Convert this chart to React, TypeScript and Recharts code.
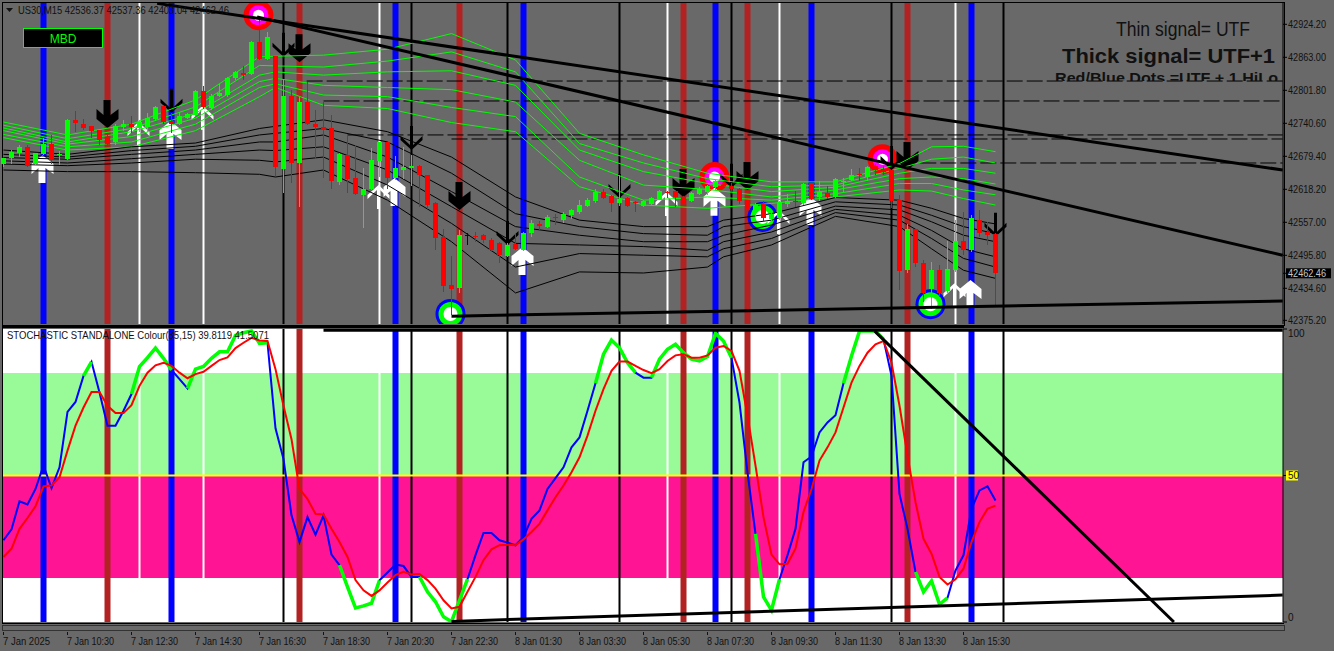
import { Bar, ComposedChart, Line, ReferenceArea, ReferenceLine, Scatter, XAxis, YAxis } from "recharts"

// open, high, low, close per 15 minute bar
const candles = [
  [42666,42677,42660,42677],[42676,42691,42666,42687],[42686,42700,42679,42696],[42697,42700,42660,42662],[42665,42686,42663,42685],
  [42683,42713,42682,42703],[42703,42719,42666,42674],[42682,42690,42663,42683],[42674,42748,42672,42747],[42747,42763,42725,42742],
  [42740,42748,42728,42732],[42735,42735,42714,42727],[42728,42729,42700,42709],[42714,42722,42697,42703],[42706,42739,42700,42735],
  [42733,42747,42727,42740],[42740,42754,42722,42733],[42731,42747,42725,42743],[42733,42759,42725,42751],[42749,42772,42745,42770],
  [42772,42774,42740,42743],[42744,42759,42722,42739],[42740,42762,42737,42754],[42750,42760,42748,42758],[42756,42803,42754,42800],
  [42800,42810,42768,42770],[42769,42795,42766,42792],[42791,42813,42789,42796],[42793,42826,42790,42824],[42824,42837,42821,42836],
  [42834,42847,42821,42831],[42832,42894,42831,42891],[42892,42932,42858,42859],[42859,42910,42858,42900],[42866,42866,42643,42659],
  [42656,42821,42612,42792],[42792,42802,42630,42667],[42667,42789,42586,42781],[42781,42818,42737,42739],[42740,42765,42675,42734],
  [42733,42781,42640,42728],[42732,42756,42619,42633],[42632,42685,42626,42683],[42681,42719,42611,42638],[42639,42700,42608,42609],
  [42608,42657,42546,42618],[42618,42694,42617,42672],[42670,42706,42641,42706],[42706,42706,42618,42639],[42639,42680,42635,42658],
  [42654,42697,42637,42659],[42658,42682,42624,42662],[42661,42663,42586,42645],[42644,42645,42581,42590],[42592,42594,42505,42527],
  [42529,42545,42428,42438],[42440,42494,42385,42434],[42435,42543,42425,42533],[42533,42538,42515,42533],[42531,42539,42521,42530],
  [42533,42536,42519,42524],[42525,42528,42502,42505],[42518,42520,42481,42496],[42494,42518,42493,42515],[42517,42536,42505,42507],
  [42505,42539,42504,42538],[42538,42561,42530,42556],[42554,42560,42543,42550],[42549,42570,42546,42567],[42567,42573,42552,42565],
  [42562,42577,42556,42572],[42570,42581,42564,42580],[42576,42598,42573,42589],[42587,42602,42586,42599],[42596,42618,42593,42613],
  [42614,42619,42601,42602],[42606,42608,42577,42593],[42593,42645,42587,42601],[42602,42604,42585,42588],[42594,42597,42577,42593],
  [42587,42599,42585,42596],[42591,42603,42590,42602],[42599,42617,42598,42615],[42613,42615,42602,42612],[42615,42617,42586,42603],
  [42604,42606,42588,42592],[42597,42613,42594,42611],[42609,42622,42607,42619],[42613,42627,42608,42624],[42623,42635,42617,42633],
  [42626,42629,42622,42624],[42624,42629,42614,42618],[42618,42620,42591,42596],[42598,42599,42573,42580],[42576,42592,42567,42590],
  [42591,42597,42560,42565],[42564,42580,42559,42573],[42565,42596,42561,42594],[42591,42609,42585,42597],[42597,42615,42585,42594],
  [42592,42629,42590,42628],[42629,42630,42598,42601],[42603,42633,42596,42613],[42612,42624,42601,42603],[42603,42640,42602,42637],
  [42632,42639,42614,42634],[42635,42656,42633,42645],[42646,42658,42634,42644],[42641,42661,42633,42659],[42661,42666,42644,42654],
  [42656,42661,42644,42650],[42654,42654,42583,42597],[42598,42607,42431,42467],[42468,42554,42463,42544],[42544,42544,42475,42481],
  [42481,42487,42410,42425],[42434,42484,42397,42468],[42468,42477,42419,42425],[42429,42522,42425,42470],[42468,42561,42465,42522],
  [42522,42577,42497,42505],[42505,42570,42502,42565],[42562,42580,42529,42538],[42539,42557,42515,42533],[42536,42537,42403,42462.46],
]

const greenRibbonBars = [0,8,16,24,32,34,40,48,56,64,72,80,88,96,104,112,116,120,124]
const greenRibbon = [
  [42743,42737,42732,42727,42720,42714],[42719,42712,42706,42702,42697,42691],[42739,42731,42725,42716,42706,42697],
  [42784,42771,42759,42750,42739,42727],[42864,42848,42830,42818,42807,42790],[42865,42847,42836,42824,42814,42807],
  [42867,42845,42830,42811,42793,42774],[42878,42856,42836,42807,42790,42768],[42907,42873,42838,42803,42770,42742],
  [42858,42836,42811,42780,42753,42725],[42722,42703,42691,42672,42641,42623],[42682,42667,42651,42626,42598,42589],
  [42648,42638,42629,42618,42604,42583],[42632,42623,42614,42604,42598,42592],[42632,42626,42622,42617,42610,42604],
  [42666,42657,42648,42638,42629,42617],[42697,42674,42657,42641,42629,42615],[42698,42678,42657,42638,42617,42601],
  [42688,42667,42648,42628,42608,42589],
]

const blackRibbonBars = [0,8,16,24,32,34,40,48,56,64,72,80,88,90,96,104,112,116,120,124]
const blackRibbon = [
  [42691,42683,42677,42671,42665,42654],[42683,42678,42674,42667,42662,42651],[42697,42690,42683,42675,42667,42651],
  [42704,42698,42691,42683,42674,42649],[42731,42719,42706,42691,42672,42646],[42735,42722,42706,42690,42669,42641],
  [42747,42731,42719,42697,42678,42654],[42725,42706,42678,42654,42626,42598],[42678,42648,42614,42586,42555,42521],
  [42604,42573,42549,42518,42474,42426],[42561,42549,42533,42515,42499,42465],[42549,42536,42521,42512,42496,42463],
  [42549,42533,42521,42505,42493,42474],[42561,42549,42533,42521,42508,42493],[42573,42561,42552,42539,42527,42515],
  [42603,42595,42587,42581,42575,42568],[42598,42589,42580,42570,42561,42549],[42583,42570,42558,42542,42527,42508],
  [42564,42549,42533,42508,42490,42468],[42554,42536,42521,42493,42474,42453],
]

const stochMain = [
  27.9,31.6,41.2,40.1,45.4,53.4,45.7,52.8,71.7,75.1,84.0,88.8,78.3,67.0,67.0,72.1,77.8,87.2,90.2,93.5,
  90.0,86.0,82.9,79.7,86.3,87.2,90.0,92.2,92.2,97.8,98.7,99.3,95.1,95.3,66.1,55.6,36.4,27.3,35.8,29.8,
  36.4,23.0,19.4,12.0,4.8,5.5,6.4,14.2,16.9,19.6,19.1,15.4,15.4,10.3,6.9,1.8,0.1,7.4,14.6,22.8,
  30.4,30.4,27.9,27.1,26.2,29.0,35.2,38.1,45.4,49.1,52.8,59.6,63.0,72.1,81.5,91.4,96.2,93.6,88.5,85.1,
  83.4,83.4,89.7,93.1,94.8,91.9,89.7,89.1,90.6,98.5,95.9,90.2,74.9,51.1,30.1,8.6,4.0,14.6,22.8,31.8,
  54.5,56.5,64.7,68.1,70.6,81.5,90.8,99.3,99.3,99.3,96.5,84.0,43.7,31.8,17.1,10.3,14.0,6.0,8.2,17.6,
  22.8,38.6,44.9,46.3,41.5,
]
const stochSignal = [
  22.2,25.0,31.8,35.5,39.5,46.3,46.6,49.4,58.5,67.0,73.2,78.5,78.5,73.8,71.3,71.3,74.0,80.6,85.1,87.6,
  88.5,87.4,85.1,83.2,84.6,85.4,87.4,89.4,90.3,93.5,95.3,97.0,96.1,95.9,86.3,73.8,62.4,45.4,42.0,36.9,
  36.7,31.8,27.3,22.2,14.3,10.8,8.9,10.8,13.5,16.0,17.1,16.2,16.4,14.3,11.4,7.4,4.6,5.2,10.3,15.4,
  21.1,24.8,26.2,26.4,26.2,28.2,30.7,33.5,38.1,42.6,46.6,51.1,56.2,63.6,72.1,79.5,85.7,88.9,88.9,87.4,
  86.0,84.9,86.3,89.1,91.0,91.4,90.2,90.2,91.0,93.6,94.2,92.5,85.7,70.4,53.4,35.8,23.0,19.7,19.9,25.0,
  37.5,45.4,55.1,59.6,64.7,73.2,81.7,87.4,91.9,94.8,95.9,88.5,73.8,56.8,40.9,28.4,23.3,15.4,12.8,14.6,
  18.2,27.3,34.1,38.6,39.7,
]
// stretches of the main line painted green
const stochGreenSpans = [[10,11],[16,21],[23,33],[42,47],[52,58],[74,79],[81,91],[94,97],[105,110],[114,118]]

const blueBars = [5,21,49,65,89,101,121]
const brownBars = [13,37,57,85,93,113]
const whiteBars = [17,25,47,83,97,119]
const blackBars = [35,51,63,77,91,111,125]

const thickDownArrows = [[13,42732],[37,42854],[57,42580],[85,42604],[93,42617],[113,42654]]
const thinDownArrows = [[21,42760],[35,42864],[51,42691],[63,42515],[77,42602],[91,42621],[111,42654],[124,42530]]
const thickUpArrows = [[5,42682],[21,42745],[49,42639],[65,42511],[89,42621],[101,42604],[121,42450]]
const thinUpArrows = [[17,42743],[25,42773],[47,42626],[83,42613],[97,42580],[119,42444]]
const redDots = [[32,42941],[89,42641],[110,42674]]
const blueDots = [[56,42387],[95,42567],[116,42405]]

// from-bar, from-price, to-bar, to-price
const priceTrends = [[19.2,42963,159.9,42654],[31.7,42938,159.9,42496],[56,42383,159.9,42411]]
const stochTrends = [[56,0.2,159.9,9.2],[108.9,99.3,146.3,0],[40,99.6,159.9,99.6]]
// price, from-bar
const dashedLevels = [[42819,37.9],[42782,40],[42719,43],[42711.5,56],[42667,109.6]]

const priceTicks = [42924.2,42863,42801.8,42740.6,42679.4,42618.2,42557,42495.8,42434.6,42375.2]
const lastClose = 42462.46
const stochTicks = [0,50,100]
const timeTicks = [0,8,16,24,32,40,48,56,64,72,80,88,96,104,112,120]
const timeLabels = [
  "7 Jan 2025","7 Jan 10:30","7 Jan 12:30","7 Jan 14:30","7 Jan 16:30","7 Jan 18:30","7 Jan 20:30","7 Jan 22:30",
  "8 Jan 01:30","8 Jan 03:30","8 Jan 05:30","8 Jan 07:30","8 Jan 09:30","8 Jan 11:30","8 Jan 13:30","8 Jan 15:30",
]

const BG = "#696969"
const FONT = "'Liberation Sans', Arial, sans-serif"
const BAR_DOMAIN = [-0.0625, 159.9375]
const PRICE_DOMAIN = [42368.4, 42963.7]
const RIBBON_KEYS = [0, 1, 2, 3, 4, 5]

const priceRows = candles.map(([open, high, low, close], bar) => {
  const row: any = { bar, open, high, low, close, range: [low, high] }
  const g = greenRibbonBars.indexOf(bar)
  const b = blackRibbonBars.indexOf(bar)
  RIBBON_KEYS.forEach((k) => {
    if (g >= 0) row[`g${k}`] = greenRibbon[g][k]
    if (b >= 0) row[`b${k}`] = blackRibbon[b][k]
  })
  return row
})

const stochRows = stochMain.map((main, bar) => ({
  bar,
  main,
  signal: stochSignal[bar],
  green: stochGreenSpans.some(([a, z]) => bar >= a && bar <= z) ? main : null,
}))

const toMarkers = (list: number[][]) => list.map(([bar, price]) => ({ bar, price }))

function Candle(props: any) {
  const { x, y, width, height, payload } = props
  const { open, close, high, low } = payload
  const perPrice = height / (high - low || 1)
  const cx = Math.floor(x + width / 2)
  const top = y + (high - Math.max(open, close)) * perPrice
  const bodyH = Math.max(Math.abs(open - close) * perPrice, 1)
  const color = close > open ? "#00ff00" : close < open ? "#ff0000" : "#000080"
  return (
    <g shapeRendering="crispEdges">
      <rect x={cx} y={y} width={1} height={Math.max(height, 1)} fill={color} />
      <rect x={cx - 2} y={top} width={5} height={bodyH} fill={color} />
    </g>
  )
}

const THICK = "0,0 -11,-9 -11,-19 -4,-13 -4,-28 3,-28 3,-13 11,-19 11,-9"
const THIN = "0,0 -11,-10 -11,-14 -1.5,-5 -1.5,-24 1.5,-24 1.5,-5 11,-14 11,-10"

const arrowShape = (points: string, fill: string, flip: boolean) => (props: any) => (
  <polygon
    points={points}
    fill={fill}
    transform={`translate(${flip ? props.cx - 1 : props.cx},${props.cy}) scale(1,${flip ? -1 : 1})`}
  />
)

const dotShape = (outer: string, middle: string, r: number, inner: number) => (props: any) => (
  <g>
    <circle cx={props.cx - 1} cy={props.cy} r={15} fill={outer} />
    <circle cx={props.cx - 1} cy={props.cy} r={r} fill={middle} />
    <circle cx={props.cx - 1} cy={props.cy} r={inner} fill="#ffffff" />
  </g>
)

function PriceTick(props: any) {
  const { x, y, payload } = props
  const boxed = payload.value === lastClose
  return (
    <g>
      {boxed && <rect x={x - 2} y={y - 5} width={45} height={10} fill="#000" />}
      <text x={x} y={y + 3.5} fontFamily={FONT} fontSize={10} textLength={38} lengthAdjust="spacingAndGlyphs" fill={boxed ? "#c8c8c8" : "#111"}>
        {payload.value.toFixed(2)}
      </text>
    </g>
  )
}

function StochTick(props: any) {
  const { x, y, payload } = props
  const shift = payload.value === 100 ? 4 : payload.value === 0 ? -5 : 0
  return (
    <g>
      {payload.value === 50 && <rect x={x - 2} y={y - 5} width={12} height={10} fill="#ffff00" />}
      <text x={x} y={y + 3.5 + shift} fontFamily={FONT} fontSize={10} fill="#111">
        {payload.value}
      </text>
    </g>
  )
}

function TimeTick(props: any) {
  const { x, y, index } = props
  return (
    <g>
      <line x1={x} x2={x} y1={y + 4} y2={y + 7} stroke="#111" />
      <text x={x - 0.5} y={y + 17} fontFamily={FONT} fontSize={10} textLength={47} lengthAdjust="spacingAndGlyphs" fill="#111">
        {timeLabels[index]}
      </text>
    </g>
  )
}

const verticals = () => [
  ...blueBars.map((b) => <ReferenceLine key={`bl${b}`} x={b} stroke="#0000ff" strokeWidth={6} />),
  ...brownBars.map((b) => <ReferenceLine key={`br${b}`} x={b} stroke="#b22222" strokeWidth={6} />),
  ...whiteBars.map((b) => <ReferenceLine key={`wh${b}`} x={b} stroke="#ffffff" strokeWidth={2} />),
  ...blackBars.map((b) => <ReferenceLine key={`bk${b}`} x={b} stroke="#000000" strokeWidth={2} />),
]

const trends = (list: number[][], width: number) =>
  list.map(([x1, y1, x2, y2], i) => (
    <ReferenceLine key={`t${i}`} segment={[{ x: x1, y: y1 }, { x: x2, y: y2 }]} stroke="#000" strokeWidth={width} ifOverflow="visible" />
  ))

// the library paints reference lines over bars, so each depth gets its own transparent chart
function PriceLayer({ children }: any) {
  return (
    <div style={{ position: "absolute", left: 0, top: 0 }}>
      <ComposedChart width={1334} height={330} data={priceRows} margin={{ top: 3, right: 51, bottom: 6, left: 3 }}>
        <XAxis dataKey="bar" type="number" domain={BAR_DOMAIN} hide />
        <YAxis type="number" domain={PRICE_DOMAIN} hide allowDataOverflow />
        {children}
      </ComposedChart>
    </div>
  )
}

function PriceBase() {
  return (
    <div style={{ position: "absolute", left: 0, top: 0 }}>
      <ComposedChart width={1334} height={330} data={priceRows} margin={{ top: 3, right: 0, bottom: 6, left: 3 }}>
        <XAxis dataKey="bar" type="number" domain={BAR_DOMAIN} hide />
        <YAxis
          orientation="right"
          width={51}
          type="number"
          domain={PRICE_DOMAIN}
          ticks={[...priceTicks, lastClose]}
          interval={0}
          tick={<PriceTick />}
          tickSize={4}
          tickMargin={1}
          stroke="#000"
          allowDataOverflow
        />
        {verticals()}
        {dashedLevels.map(([price, from]) => (
          <ReferenceLine key={price} segment={[{ x: from, y: price }, { x: 159.9, y: price }]} stroke="#000" strokeWidth={1} strokeDasharray="16 4" />
        ))}
      </ComposedChart>
    </div>
  )
}

function PricePanel() {
  return (
    <>
      <PriceBase />
      <PriceLayer>
        <Scatter data={toMarkers(redDots)} dataKey="price" shape={dotShape("#ff0000", "#ff00ff", 10, 5.5)} isAnimationActive={false} />
        <Scatter data={toMarkers(blueDots)} dataKey="price" shape={dotShape("#0000ff", "#00ff00", 12, 7)} isAnimationActive={false} />
        <Scatter data={toMarkers(thickDownArrows)} dataKey="price" shape={arrowShape(THICK, "#000", false)} isAnimationActive={false} />
        <Scatter data={toMarkers(thinDownArrows)} dataKey="price" shape={arrowShape(THIN, "#000", false)} isAnimationActive={false} />
        <Scatter data={toMarkers(thickUpArrows)} dataKey="price" shape={arrowShape(THICK, "#fff", true)} isAnimationActive={false} />
        <Scatter data={toMarkers(thinUpArrows)} dataKey="price" shape={arrowShape(THIN, "#fff", true)} isAnimationActive={false} />
      </PriceLayer>
      <PriceLayer>
        {RIBBON_KEYS.map((k) => (
          <Line key={`g${k}`} dataKey={`g${k}`} stroke="#00ff00" strokeWidth={1} dot={false} activeDot={false} connectNulls isAnimationActive={false} />
        ))}
        {RIBBON_KEYS.map((k) => (
          <Line key={`b${k}`} dataKey={`b${k}`} stroke="#000" strokeWidth={1} dot={false} activeDot={false} connectNulls isAnimationActive={false} />
        ))}
      </PriceLayer>
      <PriceLayer>
        <Bar dataKey="range" barSize={7} shape={<Candle />} isAnimationActive={false} />
        {trends(priceTrends, 3)}
      </PriceLayer>
    </>
  )
}

function StochPanel() {
  return (
    <>
      <div style={{ position: "absolute", left: 0, top: 326 }}>
        <ComposedChart width={1334} height={325} data={stochRows} margin={{ top: 3, right: 0, bottom: 0, left: 3 }}>
          <XAxis
            dataKey="bar"
            type="number"
            domain={BAR_DOMAIN}
            ticks={timeTicks}
            interval={0}
            height={29}
            axisLine={false}
            tickLine={false}
            tickMargin={0}
            tick={<TimeTick />}
          />
          <YAxis orientation="right" width={51} type="number" domain={[0, 100]} ticks={stochTicks} interval={0} tick={<StochTick />} tickSize={4} tickMargin={1} stroke="#000" allowDataOverflow />
          <ReferenceArea y1={85} y2={100} fill="#ffffff" fillOpacity={1} stroke="none" />
          <ReferenceArea y1={50} y2={85} fill="#98fb98" fillOpacity={1} stroke="none" />
          <ReferenceArea y1={15} y2={50} fill="#ff1493" fillOpacity={1} stroke="none" />
          <ReferenceArea y1={0} y2={15} fill="#ffffff" fillOpacity={1} stroke="none" />
          {verticals()}
          <ReferenceLine y={50} stroke="#ffff00" strokeWidth={2} />
        </ComposedChart>
      </div>
      <div style={{ position: "absolute", left: 0, top: 326 }}>
        <ComposedChart width={1334} height={325} data={stochRows} margin={{ top: 3, right: 51, bottom: 29, left: 3 }}>
          <XAxis dataKey="bar" type="number" domain={BAR_DOMAIN} hide />
          <YAxis type="number" domain={[0, 100]} hide allowDataOverflow />
          <Line dataKey="main" stroke="#0000ff" strokeWidth={2} dot={false} activeDot={false} isAnimationActive={false} />
          <Line dataKey="green" stroke="#00ff00" strokeWidth={3.5} dot={false} activeDot={false} isAnimationActive={false} />
          <Line dataKey="signal" stroke="#ff0000" strokeWidth={2} dot={false} activeDot={false} isAnimationActive={false} />
          {trends(stochTrends, 3)}
        </ComposedChart>
      </div>
    </>
  )
}

export default function App() {
  return (
    <div style={{ position: "fixed", left: 0, top: 0, width: 1334, height: 651, background: BG, overflow: "hidden" }}>
      {/* sub window frames */}
      <div style={{ position: "absolute", left: 2, top: 2, width: 1281, height: 322, border: "1px solid #000", boxSizing: "content-box" }} />
      <div style={{ position: "absolute", left: 2, top: 326, width: 1282, height: 2, background: "#000" }} />
      <div style={{ position: "absolute", left: 2, top: 328, width: 1, height: 295, background: "#000" }} />
      <div style={{ position: "absolute", left: 2, top: 623, width: 1282, height: 1, background: "#000" }} />
      <div style={{ position: "absolute", left: 2, top: 625, width: 1281, height: 4, border: "1px solid #333" }} />
      <PricePanel />
      <StochPanel />
      <svg width={1334} height={651} style={{ position: "absolute", left: 0, top: 0 }} fontFamily={FONT}>
        <defs>
          <clipPath id="dotsNote">
            <rect x={1040} y={60} width={260} height={21} />
          </clipPath>
        </defs>
        <polygon points="6,8 13,8 9.5,12" fill="#111" />
        <text x={18} y={14} fontSize={10.5} textLength={211} lengthAdjust="spacingAndGlyphs" fill="#111">
          US30,M15  42536.37 42537.36 42403.04 42462.46
        </text>
        <rect x={23.5} y={28.5} width={79} height={19} fill="#000" stroke="#00ff00" />
        <text x={63} y={43} fontSize={12} textAnchor="middle" fill="#00ff00">MBD</text>
        <text x={1116} y={36} fontSize={20} textLength={134} lengthAdjust="spacingAndGlyphs" fill="#111">Thin signal= UTF</text>
        <text x={1062} y={63} fontSize={20} fontWeight="bold" textLength={213} lengthAdjust="spacingAndGlyphs" fill="#111">Thick signal= UTF+1</text>
        <g clipPath="url(#dotsNote)">
          <text x={1055} y={83} fontSize={15} fontWeight="bold" textLength={223} lengthAdjust="spacingAndGlyphs" fill="#111">Red/Blue Dots =UTF + 1 HiLo</text>
        </g>
        <text x={7} y={339} fontSize={10.5} textLength={262} lengthAdjust="spacingAndGlyphs" fill="#111">
          STOCHASTIC STANDALONE Colour(85,15) 39.8119 41.5071
        </text>
      </svg>
    </div>
  )
}
